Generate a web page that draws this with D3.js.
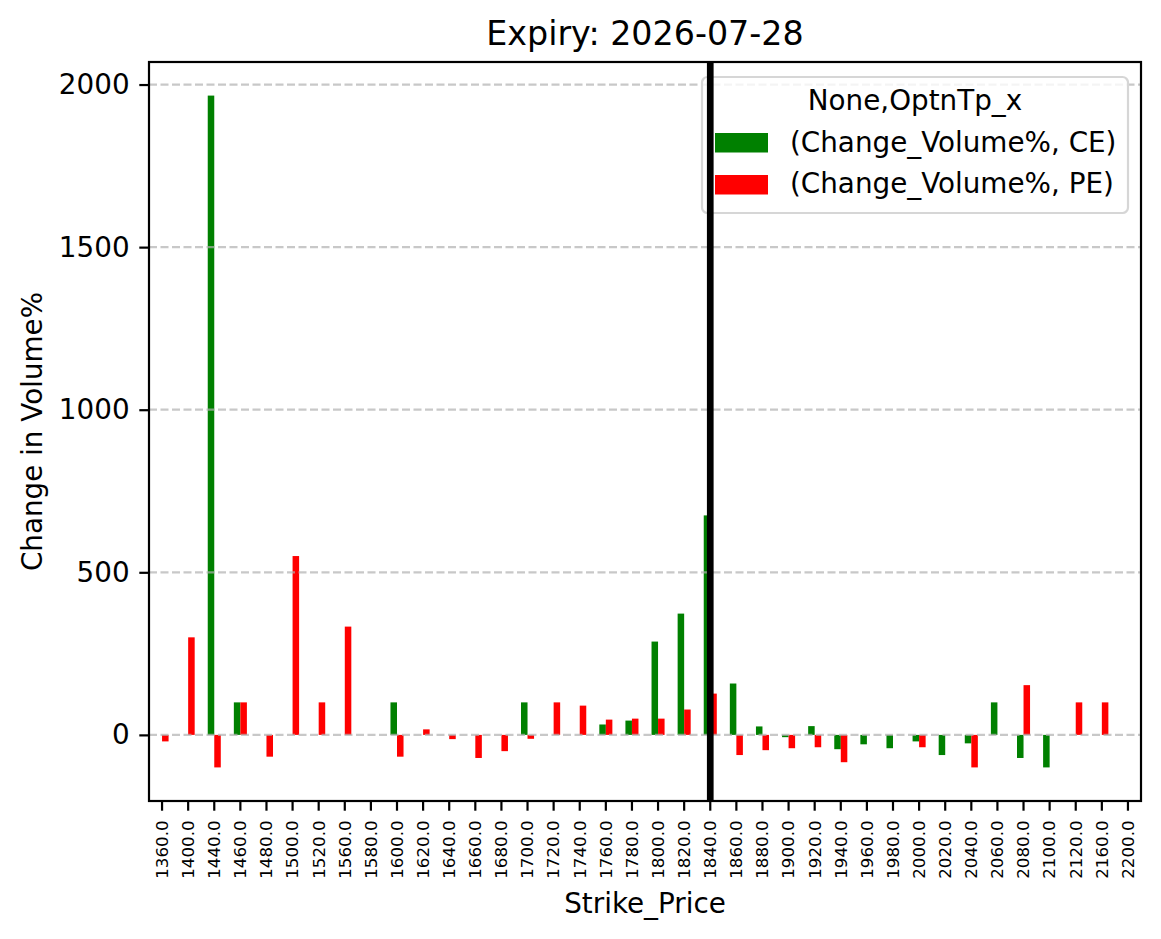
<!DOCTYPE html>
<html>
<head>
<meta charset="utf-8">
<script src="https://cdn.jsdelivr.net/npm/d3@7"></script>
<style>
  body { margin: 0; background: #fff; }
  text { font-family: "DejaVu Sans", sans-serif; fill: #000; }
</style>
</head>
<body>
<div id="chart"></div>
<script>
// strike prices (categories on the x axis)
var strikes = [1360,1400,1440,1460,1480,1500,1520,1560,1580,1600,1620,1640,1660,1680,1700,1720,1740,1760,1780,1800,
               1820,1840,1860,1880,1900,1920,1940,1960,1980,2000,2020,2040,2060,2080,2100,2120,2160,2200];
// Change_Volume% for calls (CE), null = no bar
var ceValues = [null,null,1966,100,null,null,null,null,null,100,null,null,null,null,100,null,null,32,44,287,
                373,675,158,26,-7,27,-44,-29,-41,-20,-62,-26,100,-71,-100,null,null,null];
// Change_Volume% for puts (PE)
var peValues = [-20,300,-100,100,-67,550,100,333,null,-67,17,-13,-71,-50,-12,100,90,47,50,50,
                78,127,-62,-47,-41,-38,-84,null,null,-38,null,-100,null,153,null,100,100,null];
var yTicks = [0, 500, 1000, 1500, 2000];
var seriesNames = ["(Change_Volume%, CE)", "(Change_Volume%, PE)"];
var seriesColors = ["green", "red"];
var atmStrike = 1840;

var svgWidth = 1161, svgHeight = 939;
var margin = { top: 62, left: 149 },
    width = 992, height = 739;
var fs = 27.8, tickLen = 9.7, tickPad = 9.7, lw = 2.2;

var svg = d3.select("#chart").append("svg")
    .attr("width", svgWidth)
    .attr("height", svgHeight);

var x = d3.scaleBand()
    .domain(strikes)
    .range([margin.left, margin.left + width])
    .paddingInner(0).paddingOuter(0);

var allVals = ceValues.concat(peValues).filter(function (v) { return v != null; });
var lo = d3.min(allVals), hi = d3.max(allVals), pad = (hi - lo) * 0.05;
var y = d3.scaleLinear()
    .domain([lo - pad, hi + pad])
    .range([margin.top + height, margin.top]);

var bw = x.bandwidth() * 0.25;

// bars
[ceValues, peValues].forEach(function (vals, si) {
    svg.append("g").selectAll("rect")
        .data(strikes.map(function (s, i) { return { s: s, v: vals[i] }; }).filter(function (d) { return d.v != null; }))
        .enter().append("rect")
        .attr("x", function (d) { return x(d.s) + x.bandwidth() / 2 - (si === 0 ? bw : 0); })
        .attr("width", bw)
        .attr("y", function (d) { return y(Math.max(0, d.v)); })
        .attr("height", function (d) { return Math.abs(y(d.v) - y(0)); })
        .attr("fill", seriesColors[si]);
});

// grid
svg.append("g").selectAll("line")
    .data(yTicks)
    .enter().append("line")
    .attr("x1", margin.left).attr("x2", margin.left + width)
    .attr("y1", function (d) { return y(d); }).attr("y2", function (d) { return y(d); })
    .attr("stroke", "#b0b0b0")
    .attr("stroke-opacity", 0.7)
    .attr("stroke-width", 2.2)
    .attr("stroke-dasharray", "8,3.5");

// x axis
var xAxis = svg.append("g")
    .attr("transform", "translate(0," + (margin.top + height) + ")")
    .call(d3.axisBottom(x).tickSize(tickLen).tickFormat(function (d) { return d.toFixed(1); }));
xAxis.select(".domain").remove();
xAxis.selectAll("line").attr("stroke", "#000").attr("stroke-width", lw);
xAxis.selectAll("text")
    .attr("transform", "rotate(-90)")
    .attr("y", 0)
    .attr("x", -(tickLen + tickPad))
    .attr("dy", "0.35em")
    .style("text-anchor", "end")
    .style("font-size", "16.7px")
    .style("font-family", "DejaVu Sans");

// y axis
var yAxis = svg.append("g")
    .attr("transform", "translate(" + margin.left + ",0)")
    .call(d3.axisLeft(y).tickValues(yTicks).tickSize(tickLen).tickPadding(tickPad).tickFormat(d3.format("d")));
yAxis.select(".domain").remove();
yAxis.selectAll("line").attr("stroke", "#000").attr("stroke-width", lw);
yAxis.selectAll("text")
    .style("font-size", fs + "px")
    .style("font-family", "DejaVu Sans");

// spines
svg.append("rect")
    .attr("x", margin.left).attr("y", margin.top)
    .attr("width", width).attr("height", height)
    .attr("fill", "none")
    .attr("stroke", "#000")
    .attr("stroke-width", lw);

// legend
var lg = svg.append("g");
lg.append("rect")
    .attr("x", 702).attr("y", 77)
    .attr("width", 426).attr("height", 136)
    .attr("rx", 5.5)
    .attr("fill", "#fff").attr("fill-opacity", 0.8)
    .attr("stroke", "#d6d6d6").attr("stroke-width", 2.2);
lg.append("text")
    .attr("x", 915).attr("y", 110)
    .style("text-anchor", "middle")
    .style("font-size", fs + "px")
    .text("None,OptnTp_x");
seriesNames.forEach(function (name, i) {
    lg.append("rect")
        .attr("x", 715).attr("y", 133 + i * 42)
        .attr("width", 53).attr("height", 19.5)
        .attr("fill", seriesColors[i]);
    lg.append("text")
        .attr("x", 790).attr("y", 152 + i * 41)
        .style("font-size", fs + "px")
        .text(name);
});

// ATM strike marker
svg.append("line")
    .attr("x1", x(atmStrike) + x.bandwidth() / 2).attr("x2", x(atmStrike) + x.bandwidth() / 2)
    .attr("y1", margin.top).attr("y2", margin.top + height)
    .attr("stroke", "#000")
    .attr("stroke-width", 6.7);

// title and axis labels
svg.append("text")
    .attr("x", margin.left + width / 2).attr("y", 45)
    .style("text-anchor", "middle")
    .style("font-size", "33.3px")
    .text("Expiry: 2026-07-28");
svg.append("text")
    .attr("x", margin.left + width / 2).attr("y", 913)
    .style("text-anchor", "middle")
    .style("font-size", fs + "px")
    .text("Strike_Price");
svg.append("text")
    .attr("transform", "translate(42," + (margin.top + height / 2) + ") rotate(-90)")
    .style("text-anchor", "middle")
    .style("font-size", fs + "px")
    .text("Change in Volume%");
</script>
</body>
</html>
